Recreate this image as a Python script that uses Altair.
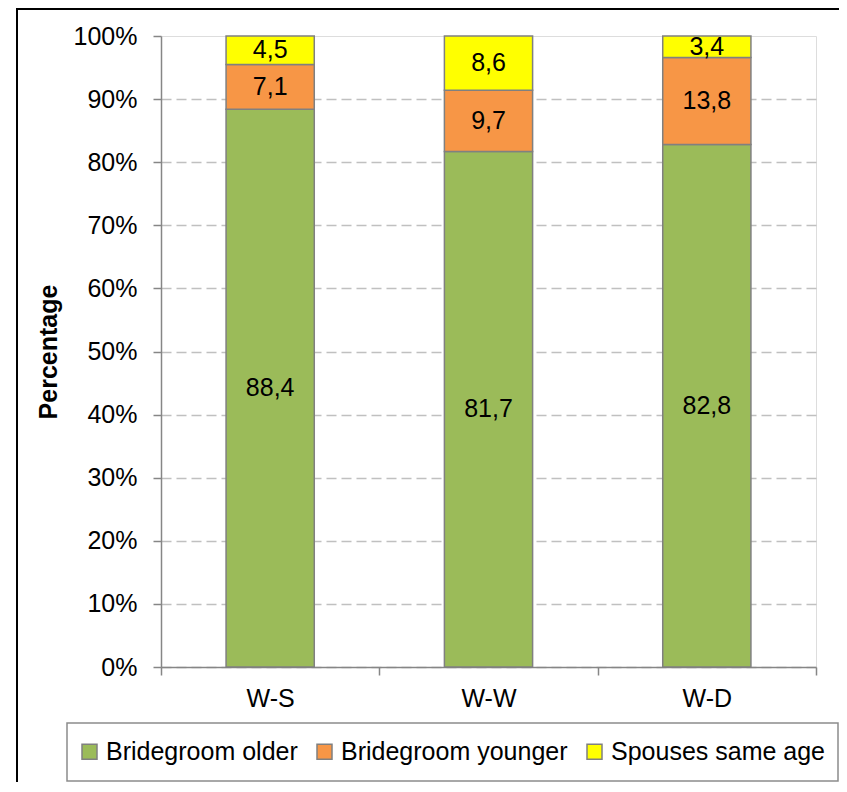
import altair as alt
import pandas as pd

categories = ["W-S", "W-W", "W-D"]
series = ["Bridegroom older", "Bridegroom younger", "Spouses same age"]
older = [88.4, 81.7, 82.8]
younger = [7.1, 9.7, 13.8]
same_age = [4.5, 8.6, 3.4]
colors = ["#9BBB59", "#F79646", "#FFFF00"]
y_ticks = [0, 10, 20, 30, 40, 50, 60, 70, 80, 90, 100]

rows = []
for i, c in enumerate(categories):
    for j, (s, vals) in enumerate(zip(series, [older, younger, same_age])):
        rows.append({"cat": c, "series": s, "order": j, "value": vals[i]})
df = pd.DataFrame(rows)

FONT = "Liberation Sans"
AXIS_GRAY = "#868686"

x_enc = alt.X(
    "cat:N",
    sort=categories,
    scale=alt.Scale(paddingInner=0, paddingOuter=0),
    axis=alt.Axis(
        title=None, labelAngle=0, tickBand="extent", tickSize=8, labelPadding=11,
        domainColor=AXIS_GRAY, tickColor=AXIS_GRAY, domainWidth=1.5, tickWidth=1.5,
        labelFontSize=25, labelColor="black", labelFont=FONT, grid=False,
    ),
)

y_enc = alt.Y(
    "value:Q",
    stack="zero",
    scale=alt.Scale(domain=[0, 100], nice=False),
    axis=alt.Axis(
        values=y_ticks, labelExpr="datum.value + '%'",
        title="Percentage", titleFontSize=25, titleFontWeight="bold", titleFont=FONT,
        titleColor="black", titlePadding=12,
        labelFontSize=25, labelFont=FONT, labelColor="black", labelPadding=16,
        tickSize=8, tickColor=AXIS_GRAY, domainColor=AXIS_GRAY, domainWidth=1.5, tickWidth=1.5,
        grid=True, gridDash=[10, 5], gridColor="#C0C0C0", gridWidth=1.5,
        gridOpacity={"condition": {"test": "datum.value >= 100", "value": 0}, "value": 1},
    ),
)

bars = alt.Chart(df).mark_bar(
    width={"band": 0.404}, stroke="#808080", strokeWidth=1.5
).encode(
    x=x_enc,
    y=y_enc,
    color=alt.Color(
        "series:N",
        scale=alt.Scale(domain=series, range=colors),
        legend=alt.Legend(
            title=None, orient="none", legendX=-84, legendY=703, direction="horizontal",
            symbolType="square", symbolSize=225, symbolStrokeColor="#808080",
            symbolStrokeWidth=1.5, labelFontSize=25, labelFont=FONT, labelColor="black",
            labelOffset=4, labelLimit=500, columnPadding=14, padding=0,
        ),
    ),
    order=alt.Order("order:Q", sort="ascending"),
)

labels = alt.Chart(df).transform_stack(
    stack="value", groupby=["cat"], sort=[alt.SortField("order", "ascending")], as_=["v0", "v1"]
).transform_calculate(
    mid="(datum.v0 + datum.v1) / 2",
    label="replace(format(datum.value, '.1f'), '.', ',')",
).mark_text(fontSize=25, font=FONT, color="black", baseline="middle").encode(
    x=alt.X("cat:N", sort=categories),
    y=alt.Y("mid:Q"),
    text="label:N",
)

deco = alt.Data(values=[{"k": 1}])
legend_box = alt.Chart(deco).mark_rect(
    fill="white", stroke="#8C8C8C", strokeWidth=1.5
).encode(
    x=alt.value(-94), x2=alt.value(677), y=alt.value(687), y2=alt.value(745)
)
frame_top = alt.Chart(deco).mark_rule(color="black", strokeWidth=2).encode(
    x=alt.value(-144), x2=alt.value(678), y=alt.value(-27)
)
frame_left = alt.Chart(deco).mark_rule(color="black", strokeWidth=2).encode(
    x=alt.value(-144), y=alt.value(-28), y2=alt.value(746)
)

chart = alt.layer(legend_box, bars, labels, frame_top, frame_left).properties(
    width=655,
    height=631,
    autosize=alt.AutoSizeParams(type="none"),
    padding={"left": 153, "top": 28, "right": 23, "bottom": 115},
).configure_view(
    stroke=AXIS_GRAY, strokeWidth=1.5
).configure(
    font=FONT
)

chart.save("out.html", embed_options={"renderer": "svg", "actions": False})
